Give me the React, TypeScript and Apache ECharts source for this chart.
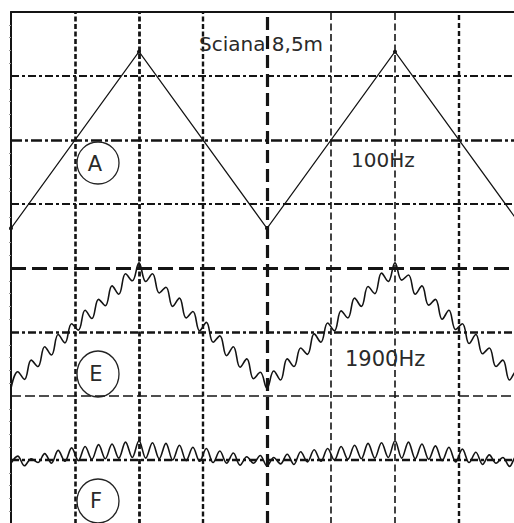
import React, { useEffect, useRef } from "react";
import * as echarts from "echarts";

// Screen is 8 x 8 divisions, origin bottom-left.
// Trace A (100 Hz): triangle vertices in divisions.
const traceAX = [0, 2, 4, 6, 8];
const traceAY = [4.62, 7.38, 4.62, 7.38, 4.62];

// Traces E (1900 Hz) and F: 77 samples spread evenly across the 8 divisions.
const sampleIdx = [
  "0", "1", "2", "3", "4", "5", "6", "7", "8", "9", "10", "11", "12", "13", "14", "15", "16", "17", "18", "19",
  "20", "21", "22", "23", "24", "25", "26", "27", "28", "29", "30", "31", "32", "33", "34", "35", "36", "37", "38",
  "39", "40", "41", "42", "43", "44", "45", "46", "47", "48", "49", "50", "51", "52", "53", "54", "55", "56", "57",
  "58", "59", "60", "61", "62", "63", "64", "65", "66", "67", "68", "69", "70", "71", "72", "73", "74", "75", "76",
];

const traceE = [
  2.12, 2.38, 2.26, 2.56, 2.46, 2.77, 2.64, 2.96, 2.83, 3.13, 3.03, 3.34, 3.21, 3.51, 3.41, 3.72, 3.59, 3.91, 3.80, 4.08,
  3.79, 3.91, 3.61, 3.70, 3.40, 3.53, 3.22, 3.32, 3.02, 3.15, 2.84, 2.94, 2.63, 2.77, 2.45, 2.58, 2.27, 2.37, 2.12,
  2.39, 2.25, 2.58, 2.46, 2.75, 2.65, 2.97, 2.84, 3.14, 3.02, 3.33, 3.22, 3.53, 3.40, 3.71, 3.60, 3.92, 3.79, 4.08,
  3.81, 3.89, 3.59, 3.72, 3.42, 3.51, 3.20, 3.34, 3.04, 3.13, 2.82, 2.96, 2.66, 2.75, 2.46, 2.56, 2.25, 2.39, 2.13,
];

const traceF = [
  0.95, 1.06, 0.91, 1.02, 0.96, 1.10, 0.95, 1.15, 0.98, 1.19, 0.99, 1.21, 1.01, 1.24, 1.02, 1.25, 1.03, 1.28, 1.04, 1.30,
  1.03, 1.27, 1.02, 1.26, 1.00, 1.23, 0.99, 1.20, 0.98, 1.18, 0.96, 1.14, 0.95, 1.11, 0.92, 1.05, 0.95, 1.07, 0.91,
  1.04, 0.94, 1.09, 0.93, 1.13, 0.97, 1.16, 0.98, 1.18, 1.00, 1.21, 1.01, 1.23, 1.02, 1.26, 1.03, 1.27, 1.04, 1.30,
  1.03, 1.28, 1.02, 1.25, 1.01, 1.22, 0.99, 1.20, 0.97, 1.17, 0.96, 1.12, 0.93, 1.08, 0.95, 1.04, 0.90, 1.06, 0.93,
];

// Graticule divisions
const verticalDivs = [1, 2, 3, 4, 5, 6, 7];
const horizontalDivs = [1, 2, 3, 4, 5, 6, 7];

const INK = "#141414";
const FONT = '"DejaVu Sans", sans-serif';

// Dash styles of the graticule lines (index matches the division arrays)
const vStyles = [
  { width: 2.6, type: [5, 2.5] },
  { width: 2.8, type: [5, 2.5] },
  { width: 2.4, type: [5, 2.5] },
  { width: 3.2, type: [13, 6] },
  { width: 1.6, type: [7, 3.5] },
  { width: 1.6, type: [7, 3.5] },
  { width: 2.4, type: [5, 3] },
];
const hStyles = [
  { width: 2.4, type: [8, 3, 3, 3] },
  { width: 1.7, type: [10, 4] },
  { width: 2.6, type: [8, 3, 3, 3] },
  { width: 3.2, type: [15, 6] },
  { width: 2.2, type: [8, 3, 3, 3] },
  { width: 2.6, type: [11, 3, 3, 3] },
  { width: 2.0, type: [8, 3, 3, 3] },
];

export default function App() {
  const ref = useRef<HTMLDivElement>(null);

  useEffect(() => {
    if (!ref.current) return;
    const chart = echarts.init(ref.current, undefined, { renderer: "svg" });

    const gridLines: any[] = [
      ...verticalDivs.map((d, i) => ({
        xAxis: d,
        lineStyle: { color: INK, width: vStyles[i].width, type: vStyles[i].type },
      })),
      ...horizontalDivs.map((d, i) => ({
        yAxis: d,
        lineStyle: { color: INK, width: hStyles[i].width, type: hStyles[i].type },
      })),
    ];

    const label = (text: string, x: number, y: number, size: number) => ({
      type: "text",
      x,
      y,
      z: 10,
      style: {
        text,
        fill: "#2a2a2a",
        fontFamily: FONT,
        fontSize: size,
        verticalAlign: "middle",
        align: "left",
      },
    });
    const ring = (cx: number, cy: number, rx: number, ry: number) => ({
      type: "ellipse",
      z: 10,
      shape: { cx, cy, rx, ry },
      style: { fill: "none", stroke: "#222", lineWidth: 1.3 },
    });
    const letter = (text: string, x: number, y: number) => ({
      type: "text",
      x,
      y,
      z: 10,
      style: {
        text,
        fill: "#2a2a2a",
        fontFamily: FONT,
        fontSize: 21,
        align: "center",
        verticalAlign: "middle",
      },
    });

    chart.setOption({
      animation: false,
      backgroundColor: "#ffffff",
      grid: { left: 11, top: 12, width: 512, height: 512, show: false },
      xAxis: [
        {
          type: "value",
          min: 0,
          max: 8,
          interval: 1,
          position: "top",
          axisLine: { show: true, onZero: false, lineStyle: { color: INK, width: 2 } },
          axisTick: { show: false },
          axisLabel: { show: false },
          splitLine: { show: false },
        },
        {
          type: "category",
          data: sampleIdx,
          boundaryGap: false,
          show: false,
          axisLine: { onZero: false },
        },
      ],
      yAxis: {
        type: "value",
        min: 0,
        max: 8,
        interval: 1,
        axisLine: { show: true, onZero: false, lineStyle: { color: INK, width: 2 } },
        axisTick: { show: false },
        minorTick: { show: true, splitNumber: 5, length: 2, lineStyle: { color: "#999" } },
        axisLabel: { show: false },
        splitLine: { show: false },
      },
      series: [
        {
          name: "A",
          type: "line",
          xAxisIndex: 0,
          data: traceAX.map((x, i) => [x, traceAY[i]]),
          symbol: "circle",
          symbolSize: 4,
          itemStyle: { color: INK },
          lineStyle: { color: INK, width: 1.2 },
          markLine: {
            silent: true,
            symbol: ["none", "none"],
            label: { show: false },
            data: gridLines,
          },
        },
        {
          name: "E",
          type: "line",
          xAxisIndex: 1,
          data: traceE,
          smooth: 0.4,
          showSymbol: false,
          lineStyle: { color: INK, width: 1.6 },
        },
        {
          name: "F",
          type: "line",
          xAxisIndex: 1,
          data: traceF,
          smooth: 0.35,
          showSymbol: false,
          lineStyle: { color: INK, width: 1.6 },
        },
      ],
      graphic: [
        label("Sciana 8,5m", 199, 44, 20),
        label("100Hz", 351, 160, 20),
        label("1900Hz", 345, 359, 21),
        ring(98, 163, 21, 21),
        letter("A", 95, 164),
        ring(98, 374, 21, 23),
        letter("E", 96, 374),
        ring(98, 501, 21, 22),
        letter("F", 96, 501),
      ],
    });

    return () => chart.dispose();
  }, []);

  // The screen is wider and taller than the visible window; the wrapper crops it.
  return (
    <div
      style={{
        position: "absolute",
        left: 0,
        top: 0,
        width: 514,
        height: 523,
        overflow: "hidden",
        background: "#fff",
      }}
    >
      <div ref={ref} style={{ width: 530, height: 530 }} />
    </div>
  );
}
